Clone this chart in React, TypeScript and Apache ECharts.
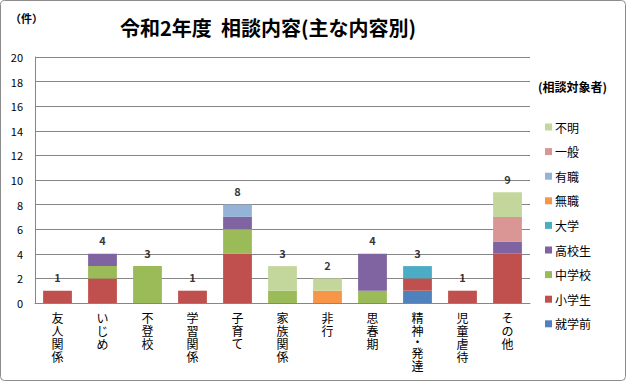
import React, { useEffect, useRef } from "react";
import * as echarts from "echarts";

const categories = ["友人関係", "いじめ", "不登校", "学習関係", "子育て", "家族関係", "非行", "思春期", "精神・発達", "児童虐待", "その他"];
const seriesNames = ["就学前", "小学生", "中学校", "高校生", "大学", "無職", "有職", "一般", "不明"];
const shugakuzen = [0, 0, 0, 0, 0, 0, 0, 0, 1, 0, 0];
const shogakusei = [1, 2, 0, 1, 4, 0, 0, 0, 1, 1, 4];
const chugakko = [0, 1, 3, 0, 2, 1, 0, 1, 0, 0, 0];
const kokosei = [0, 1, 0, 0, 1, 0, 0, 3, 0, 0, 1];
const daigaku = [0, 0, 0, 0, 0, 0, 0, 0, 1, 0, 0];
const mushoku = [0, 0, 0, 0, 0, 0, 1, 0, 0, 0, 0];
const yushoku = [0, 0, 0, 0, 1, 0, 0, 0, 0, 0, 0];
const ippan = [0, 0, 0, 0, 0, 0, 0, 0, 0, 0, 2];
const fumei = [0, 0, 0, 0, 0, 2, 1, 0, 0, 0, 2];
const seriesValues = [shugakuzen, shogakusei, chugakko, kokosei, daigaku, mushoku, yushoku, ippan, fumei];
const colors = ["#4F81BD", "#C0504D", "#9BBB59", "#8064A2", "#4BACC6", "#F79646", "#95B3D7", "#D99694", "#C3D69B"];
const yTicks = { min: 0, max: 20, interval: 2 };

const FONT = "'Noto Sans CJK JP', 'Noto Sans', sans-serif";

export default function App() {
  const ref = useRef<HTMLDivElement>(null);
  useEffect(() => {
    if (!ref.current) return;
    const chart = echarts.init(ref.current, undefined, { renderer: "svg" });
    const totals = categories.map((_, i) => seriesValues.reduce((s, arr) => s + arr[i], 0));
    const barSeries = seriesNames.map((name, k) => ({
      name,
      type: "bar",
      stack: "total",
      barWidth: "64%",
      itemStyle: { color: colors[k] },
      data: seriesValues[k].map((v) => (v === 0 ? null : v)),
    }));
    chart.setOption({
      animation: false,
      textStyle: { fontFamily: FONT },
      title: {
        text: "令和2年度  相談内容(主な内容別)",
        left: 263,
        textAlign: "center",
        top: 12,
        textStyle: { fontSize: 20, fontWeight: "bold", color: "#000", fontFamily: FONT },
      },
      graphic: [
        {
          type: "rect",
          shape: { x: 0.5, y: 0.5, width: 625, height: 380, r: 4 },
          style: { fill: "none", stroke: "#8c8c8c", lineWidth: 1 },
          silent: true,
        },
        {
          type: "text",
          left: 10,
          top: 12,
          style: { text: "（件）", font: `bold 11px ${FONT}`, fill: "#000" },
        },
        {
          type: "text",
          left: 538,
          top: 80,
          style: { text: "(相談対象者)", font: `bold 12px ${FONT}`, fill: "#000" },
        },
      ],
      legend: {
        data: seriesNames.slice().reverse(),
        orient: "vertical",
        left: 540,
        top: 116,
        itemWidth: 7,
        itemHeight: 7,
        itemGap: 12.6,
        icon: "rect",
        textStyle: { fontSize: 12, color: "#000", fontFamily: FONT, padding: [0, 0, 0, -2] },
      },
      grid: { left: 35, right: 96, top: 57, bottom: 78, containLabel: false, outerBoundsMode: "none" },
      xAxis: {
        type: "category",
        data: categories,
        axisLine: { show: true, lineStyle: { color: "#868686" } },
        axisTick: { show: false },
        axisLabel: {
          interval: 0,
          color: "#000",
          fontSize: 12,
          lineHeight: 13,
          margin: 8,
          verticalAlign: "top",
          fontFamily: FONT,
          formatter: (v: string) =>
            v
              .split("")
              .map((c) => (c === "・" ? "{d|・}" : c))
              .join("\n"),
          rich: { d: { fontSize: 12, lineHeight: 9, color: "#000", fontFamily: FONT } },
        },
      },
      yAxis: {
        type: "value",
        min: yTicks.min,
        max: yTicks.max,
        interval: yTicks.interval,
        axisLine: { show: true, lineStyle: { color: "#868686" } },
        axisTick: { show: false },
        splitLine: { lineStyle: { color: "#868686" } },
        axisLabel: { color: "#000", fontSize: 11, margin: 12, fontFamily: FONT },
      },
      series: [
        ...barSeries,
        {
          name: "合計",
          type: "scatter",
          symbolSize: 0,
          data: totals,
          label: {
            show: true,
            position: "top",
            distance: 8,
            color: "#000",
            fontSize: 11,
            fontWeight: "bold",
            fontFamily: FONT,
          },
          silent: true,
        },
      ],
    });
    return () => chart.dispose();
  }, []);
  return <div ref={ref} style={{ position: "fixed", left: 0, top: 0, width: 626, height: 381, background: "#fff" }} />;
}
